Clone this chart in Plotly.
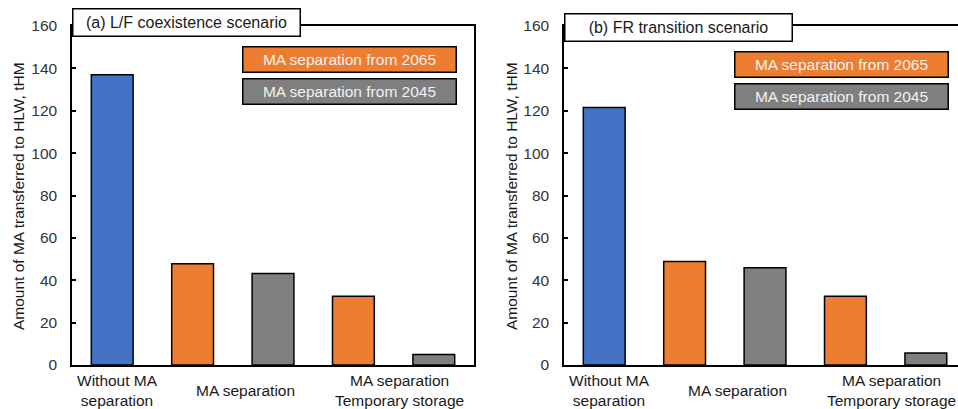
import plotly.graph_objects as go

# ---- data ----
categories = [
    "Without MA separation",
    "MA separation (from 2065)",
    "MA separation (from 2045)",
    "MA separation + Temporary storage (from 2065)",
    "MA separation + Temporary storage (from 2045)",
]
bar_case = ["none", "2065", "2045", "2065", "2045"]
values_a = [137.0, 47.8, 43.2, 32.5, 5.0]
values_b = [121.5, 48.9, 45.9, 32.4, 5.7]
panel_titles = ["(a) L/F coexistence scenario", "(b) FR transition scenario"]
group_labels = ["Without MA<br>separation", "MA separation", "MA separation<br>Temporary storage"]
group_members = [[0], [1, 2], [3, 4]]
legend_labels = ["MA separation from 2065", "MA separation from 2045"]
legend_cases = ["2065", "2045"]
y_ticks = [0, 20, 40, 60, 80, 100, 120, 140, 160]
y_title = "Amount of MA transferred to HLW, tHM"

# ---- styles ----
W, H = 958, 409
FONT = "Liberation Sans, Arial, sans-serif"
TXT = "#1a1a1a"
TICK = "#333333"
case_color = {"none": "#4472C4", "2065": "#ED7D31", "2045": "#7F7F7F"}
bar_colors = [case_color[c] for c in bar_case]

M_T, M_B = 26, 44
plot_h = H - M_T - M_B


def py(pix):
    """pixel row -> paper y"""
    return (H - M_B - pix) / plot_h


fig = go.Figure()
panels = [
    dict(vals=values_a, xa="x", ya="y", dom=[72 / W, 474 / W], rng=[-0.5, 4.5],
         title_pix=23, leg_pix=[60, 91], ytitle_x=18 / W, mirror_y=True),
    dict(vals=values_b, xa="x2", ya="y2", dom=[564 / W, 1.0], rng=[-0.5, 4.4],
         title_pix=27, leg_pix=[65, 96], ytitle_x=511 / W, mirror_y=False),
]

annotations = []
for i, p in enumerate(panels):
    fig.add_trace(go.Bar(
        x=categories, y=p["vals"], xaxis=p["xa"], yaxis=p["ya"],
        marker=dict(color=bar_colors, line=dict(color="black", width=1.5)),
        showlegend=False,
    ))
    sfx = "" if i == 0 else "2"
    fig.update_layout(**{
        "xaxis" + sfx: dict(domain=p["dom"], range=p["rng"], type="category",
                            showline=True, mirror=True, linecolor="black", linewidth=1.5,
                            showticklabels=False, ticks="", showgrid=False, zeroline=False,
                            anchor="y" + sfx),
        "yaxis" + sfx: dict(domain=[0, 1], range=[0, 160], tickvals=y_ticks,
                            showline=True, mirror=p["mirror_y"], linecolor="black", linewidth=1.5,
                            ticks="inside", ticklen=4, tickwidth=1.5, tickcolor="black",
                            ticklabelstandoff=10,
                            tickfont=dict(family=FONT, size=15.5, color=TICK),
                            showgrid=False, zeroline=False, anchor="x" + sfx),
    })
    # panel title box
    annotations.append(dict(
        xref=p["xa"], yref="paper", x=-0.5, y=py(p["title_pix"]), xanchor="left", yanchor="middle",
        text=panel_titles[i], showarrow=False, font=dict(family=FONT, size=16, color=TXT),
        bgcolor="white", bordercolor="black", borderwidth=1.5, borderpad=1,
        width=224, height=24, align="center",
    ))
    # legend boxes
    for j, lab in enumerate(legend_labels):
        annotations.append(dict(
            xref=p["xa"], yref="paper", x=4.285, y=py(p["leg_pix"][j]), xanchor="right", yanchor="middle",
            text=lab, showarrow=False, font=dict(family=FONT, size=15.5, color="#F2F2F2"),
            bgcolor=case_color[legend_cases[j]], bordercolor="black", borderwidth=1.5,
            borderpad=1, width=210, height=22, align="center",
        ))
    # y-axis title
    annotations.append(dict(
        xref="paper", yref="paper", x=p["ytitle_x"], y=py(196), xanchor="center", yanchor="middle",
        text=y_title, textangle=-90, showarrow=False, font=dict(family=FONT, size=15.5, color=TXT),
    ))
    # group labels
    shifts = [5, 13, 6]
    for k, lab in enumerate(group_labels):
        c = sum(group_members[k]) / len(group_members[k])
        annotations.append(dict(
            xref=p["xa"], yref="paper", x=c, y=py(390), xanchor="center", yanchor="middle",
            xshift=shifts[k], text=lab, showarrow=False, align="center",
            font=dict(family=FONT, size=15.5, color=TXT),
        ))

fig.update_layout(
    width=W, height=H, margin=dict(l=0, r=0, t=M_T, b=M_B),
    paper_bgcolor="white", plot_bgcolor="white", bargap=0.48,
    annotations=annotations, font=dict(family=FONT, size=15, color=TXT),
)

fig.write_html("out.html", config={"displayModeBar": False},
               post_script="document.body.style.margin='0';")
